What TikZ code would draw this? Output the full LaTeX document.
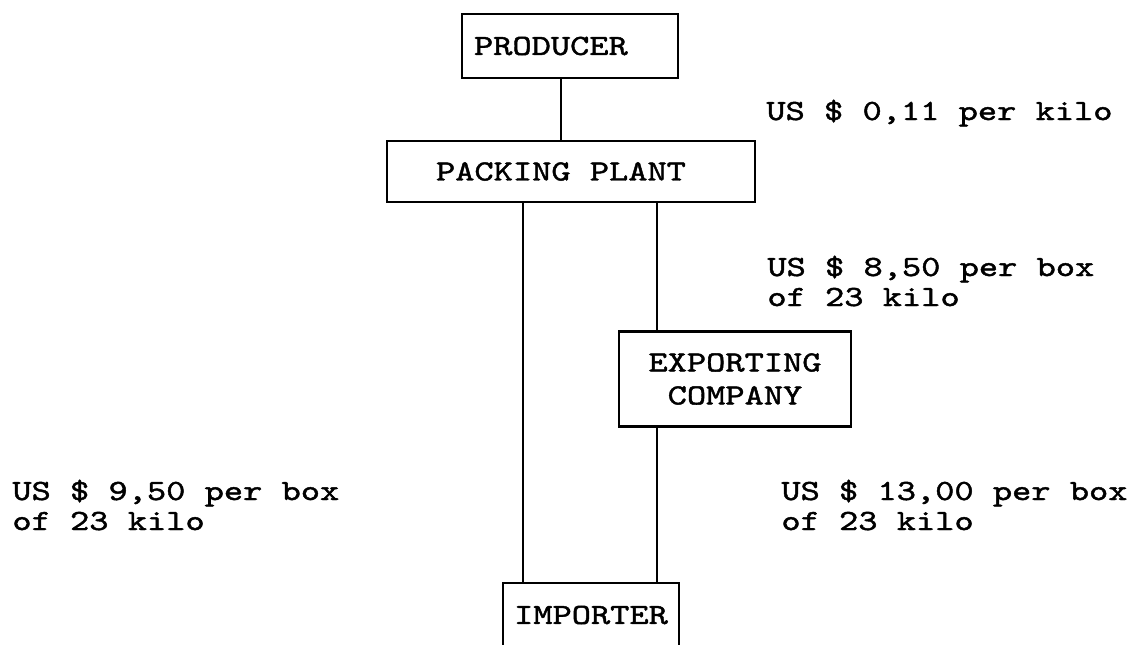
\documentclass[tikz,border=0pt]{standalone}
\usepackage{fontspec}
\newfontfamily\typefont[FakeStretch=1.25,FakeBold=1.5]{lmmono10-regular.otf}
\newcommand{\pricefont}{\typefont\fontsize{14.65}{15}\selectfont}

\tikzset{
  stage/.style={draw, line width=1.1pt, font=\pricefont, inner ysep=0pt},
  price/.style={font=\pricefont, anchor=base west, align=left, inner sep=0pt},
  link/.style={line width=1.1pt},
}

\begin{document}
\begin{tikzpicture}[x=0.5pt, y=-0.5pt]
\useasboundingbox (0,0) rectangle (1137,644);

% chain of stages
\node[stage, minimum height=32pt, text width=96pt, inner xsep=6pt, align=left] (producer) at (570,46) {PRODUCER};
\node[stage, minimum width=184pt, minimum height=30.5pt] (packing) at (571,171.5) {PACKING PLANT\hspace*{10pt}};
\node[stage, minimum width=116pt, minimum height=47.5pt, align=center, font=\typefont\fontsize{14.65}{16.5}\selectfont] (exporting) at (735,379) {EXPORTING\\COMPANY};
\node[stage, minimum width=88pt, minimum height=32pt] (importer) at (591,615) {IMPORTER};

% connections
\draw[link] ([xshift=-4.5pt]producer.south) -- ([xshift=-4.5pt]producer.south |- packing.north);
\draw[link] ([xshift=-34pt]importer.north) -- ([xshift=-34pt]importer.north |- packing.south);
\draw[link] ([xshift=-39pt]exporting.north) -- ([xshift=-39pt]exporting.north |- packing.south);
\draw[link] ([xshift=33pt]importer.north) -- ([xshift=33pt]importer.north |- exporting.south);

% prices (anchor = baseline of the last line)
\node[price] (p1) at (766,120) {US \$ 0,11 per kilo};
\node[price] (p2) at (767,306) {US \$ 8,50 per box\\of 23 kilo};
\node[price] (p3) at (12,530) {US \$ 9,50 per box\\of 23 kilo};
\node[price] (p4) at (781,530) {US \$ 13,00 per box\\of 23 kilo};

\end{tikzpicture}
\end{document}
